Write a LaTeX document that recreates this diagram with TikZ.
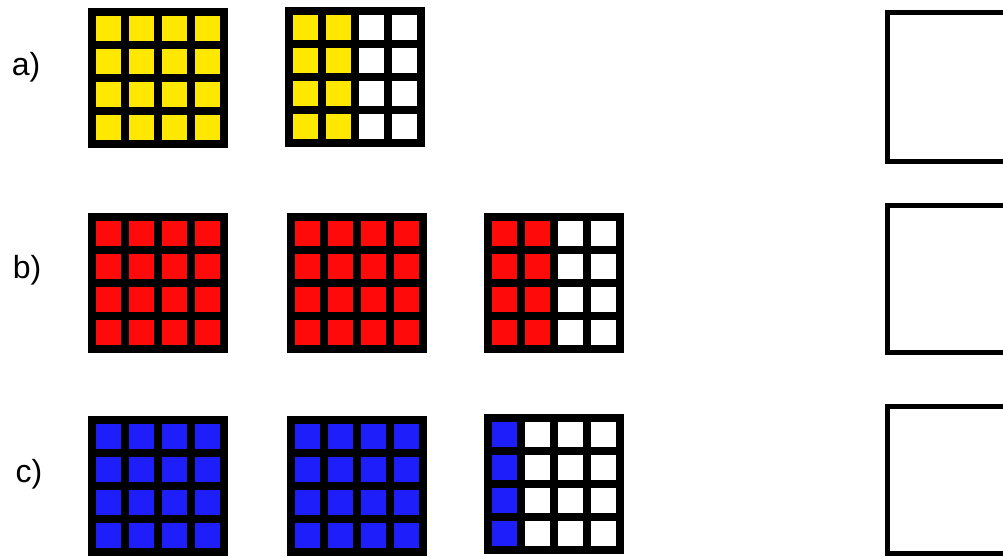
\documentclass[tikz,border=0pt]{standalone}
\usepackage{fontspec}
\setmainfont{Liberation Sans}
\definecolor{tileyellow}{RGB}{255, 232, 0}
\definecolor{tilered}{RGB}{255, 10, 10}
\definecolor{tileblue}{RGB}{30, 30, 250}

\begin{document}
\begin{tikzpicture}[x=0.75pt, y=-0.75pt,
  rowlabel/.style={font=\fontsize{24}{24}\selectfont, inner sep=0pt},
  answerbox/.style={draw=black, line width=3.8pt}]

\useasboundingbox (0,0) rectangle (1003,557);
\clip (0,0) rectangle (1003,557);

% ===================================================================
% One tile grid: black square 140 px, 4x4 cells of 25 px, 8 px bars
%   \tilegrid{x}{y}{colour}{number of coloured columns}
% ===================================================================
\newcommand{\tilegrid}[4]{%
  \begin{scope}[shift={(#1,#2)}]
    \fill[black] (0,0) rectangle (140,140);
    \foreach \c in {0,...,3}
      \foreach \r in {0,...,3} {
        \pgfmathsetmacro{\tilefill}{\c<#4 ? "#3" : "white"}
        \fill[\tilefill] ({8+33*\c},{8+33*\r}) rectangle +(25,25);
      }
  \end{scope}}

% ===== ROW a) =====
\node[rowlabel] (labela) at (26,67) {a)};
\tilegrid{88}{8}{tileyellow}{4}
\tilegrid{285}{7}{tileyellow}{2}

% ===== ROW b) =====
\node[rowlabel] (labelb) at (27,270) {b)};
\tilegrid{88}{213}{tilered}{4}
\tilegrid{287}{213}{tilered}{4}
\tilegrid{484}{213}{tilered}{2}

% ===== ROW c) =====
\node[rowlabel] (labelc) at (29,474) {c)};
\tilegrid{88}{416}{tileblue}{4}
\tilegrid{287}{416}{tileblue}{4}
\tilegrid{484}{414}{tileblue}{1}

% ===== Answer boxes (cut by the right edge) =====
\draw[answerbox] (887.5,12.5) rectangle (1015,161.5);
\draw[answerbox] (887.5,205.5) rectangle (1015,352.5);
\draw[answerbox] (887.5,406.5) rectangle (1015,553.5);

\end{tikzpicture}
\end{document}
